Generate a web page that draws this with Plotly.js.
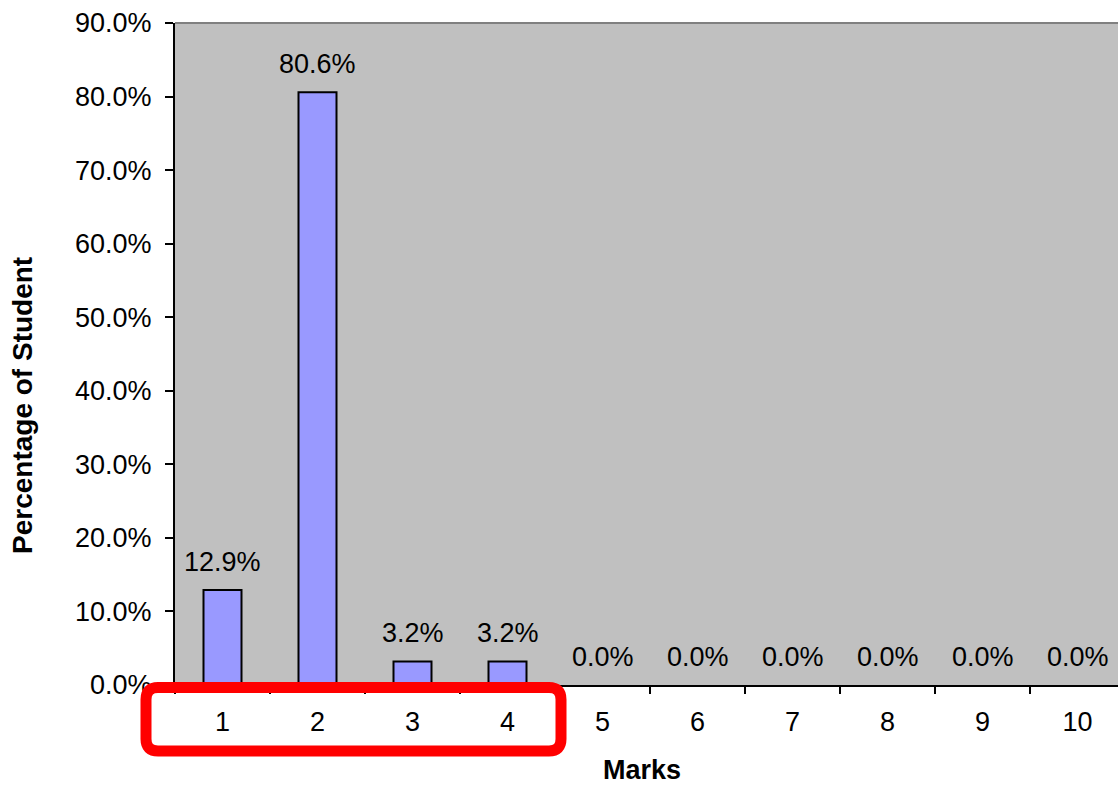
<!DOCTYPE html>
<html>
<head>
<meta charset="utf-8">
<script src="https://cdn.plot.ly/plotly-3.0.1.min.js"></script>
<style>
  html, body { margin: 0; padding: 0; background: #ffffff; overflow: hidden; }
  #chart { width: 1125px; height: 787px; }
</style>
</head>
<body>
<div id="chart"></div>
<script>
// Share of students by mark
const marks = ['1', '2', '3', '4', '5', '6', '7', '8', '9', '10'];
const shares = [0.129, 0.806, 0.032, 0.032, 0, 0, 0, 0, 0, 0];
const yTicks = [0, 0.1, 0.2, 0.3, 0.4, 0.5, 0.6, 0.7, 0.8, 0.9];

const FONT = '"Liberation Sans", Arial, sans-serif';

const W = 1125, H = 787;
const M = { l: 175, r: 0, t: 23, b: 102 };
const plotW = W - M.l - M.r;
const plotH = H - M.t - M.b;

// pixel -> paper coordinate helpers
const px = x => (x - M.l) / plotW;
const py = y => (H - M.b - y) / plotH;

// rounded rectangle path (paper coords) for the highlight frame
function roundRect(x0, y0, x1, y1, r) {
  const rx = r / plotW, ry = r / plotH;
  const a = px(x0), b = px(x1), top = py(y0), bot = py(y1);
  return `M${a + rx},${top} L${b - rx},${top} Q${b},${top} ${b},${top - ry} ` +
         `L${b},${bot + ry} Q${b},${bot} ${b - rx},${bot} ` +
         `L${a + rx},${bot} Q${a},${bot} ${a},${bot + ry} ` +
         `L${a},${top - ry} Q${a},${top} ${a + rx},${top} Z`;
}

const trace = {
  type: 'bar',
  x: marks,
  y: shares,
  marker: {
    color: '#9999FF',
    // empty categories get no outline so nothing shows on the axis
    line: { color: '#000000', width: shares.map(v => (v > 0 ? 2 : 0)) }
  },
  hoverinfo: 'skip'
};

// value labels above each bar (category index on the x axis)
const valueLabels = marks.map((m, i) => ({
  x: i, y: shares[i], xref: 'x', yref: 'y',
  text: (shares[i] * 100).toFixed(1) + '%',
  showarrow: false, yanchor: 'bottom', yshift: 11,
  font: { family: FONT, size: 27, color: '#000000' }
}));

const layout = {
  width: W, height: H,
  margin: M,
  paper_bgcolor: '#ffffff',
  plot_bgcolor: '#C0C0C0',
  bargap: 0.6,
  showlegend: false,
  font: { family: FONT, color: '#000000' },
  xaxis: {
    type: 'category',
    range: [-0.5, 9.5],
    tickson: 'boundaries',
    ticks: 'outside', ticklen: 7, tickwidth: 2, tickcolor: '#000000',
    showline: true, linecolor: '#000000', linewidth: 2,
    showgrid: false, zeroline: false,
    ticklabelstandoff: 12,
    tickfont: { family: FONT, size: 27, color: '#000000' },
    fixedrange: true
  },
  yaxis: {
    range: [0, 0.9],
    tickvals: yTicks,
    tickformat: '.1%',
    ticks: 'outside', ticklen: 8, tickwidth: 2, tickcolor: '#000000',
    showline: true, linecolor: '#000000', linewidth: 2,
    showgrid: false, zeroline: false,
    ticklabelstandoff: 8,
    tickfont: { family: FONT, size: 27, color: '#000000' },
    fixedrange: true
  },
  annotations: valueLabels.concat([
    {
      text: '<b>Percentage of Student</b>', textangle: -90,
      xref: 'paper', yref: 'paper', x: px(22), y: py(406),
      xanchor: 'center', yanchor: 'middle', showarrow: false,
      font: { family: FONT, size: 28, color: '#000000' }
    },
    {
      text: '<b>Marks</b>',
      xref: 'paper', yref: 'paper', x: px(642), y: py(770),
      xanchor: 'center', yanchor: 'middle', showarrow: false, borderpad: 0,
      font: { family: FONT, size: 27, color: '#000000' }
    }
  ]),
  shapes: [
    // plot area top border
    { type: 'line', xref: 'paper', yref: 'paper', x0: 0, x1: 1, y0: 1, y1: 1,
      line: { color: '#808080', width: 2 }, layer: 'above' },
    // highlight frame around marks 1-4
    { type: 'path', xref: 'paper', yref: 'paper',
      path: roundRect(146, 687.5, 561, 751, 12),
      line: { color: '#FF0000', width: 11 }, fillcolor: 'rgba(0,0,0,0)', layer: 'above' }
  ]
};

Plotly.newPlot('chart', [trace], layout, { displayModeBar: false, staticPlot: true });
</script>
</body>
</html>
